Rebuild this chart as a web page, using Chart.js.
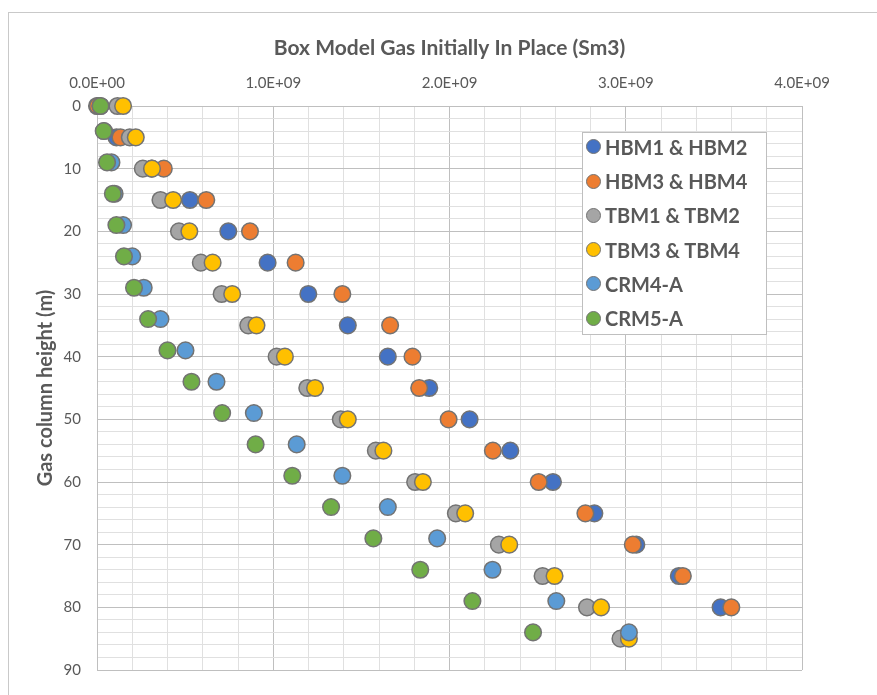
<!DOCTYPE html>
<html>
<head>
<meta charset="utf-8">
<script src="https://cdn.jsdelivr.net/npm/chart.js@4.4.1/dist/chart.umd.min.js"></script>
<style>
    body { margin: 0; background: #fff; overflow: hidden; }
    #wrap { position: relative; width: 877px; height: 695px; overflow: hidden; }
    #frame { position: absolute; left: 8px; top: 12px; width: 1000px; height: 1000px; border: 1.5px solid #c9c9c9; }
    canvas { position: absolute; left: 0; top: 0; }
    #legend { position: absolute; left: 582px; top: 132px; width: 183px; height: 201px; border: 1px solid #bfbfbf; background: #fff; font: bold 20px Lato, sans-serif; color: #595959; }
    .item { position: absolute; left: 3px; height: 34px; display: flex; align-items: center; white-space: nowrap; }
    .dot { width: 13px; height: 13px; border-radius: 50%; border: 1.5px solid #737373; margin-right: 4px; }
</style>
</head>
<body>
<div id="wrap">
    <div id="frame"></div>
    <canvas id="chart" width="877" height="695"></canvas>
    <div id="legend"></div>
</div>
<script>
// gas column heights (m)
const heightHBM = [0, 5, 10, 15, 20, 25, 30, 35, 40, 45, 50, 55, 60, 65, 70, 75, 80];
const heightTBM = [0, 5, 10, 15, 20, 25, 30, 35, 40, 45, 50, 55, 60, 65, 70, 75, 80, 85];
const heightCRM = [0, 4, 9, 14, 19, 24, 29, 34, 39, 44, 49, 54, 59, 64, 69, 74, 79, 84];

// GIIP (Sm3)
const hbm12 = [0.00e9, 0.11e9, 0.31e9, 0.527e9, 0.745e9, 0.968e9, 1.199e9, 1.423e9, 1.65e9, 1.885e9, 2.114e9, 2.345e9, 2.587e9, 2.822e9, 3.06e9, 3.301e9, 3.538e9];
const hbm34 = [0.005e9, 0.133e9, 0.379e9, 0.62e9, 0.868e9, 1.127e9, 1.392e9, 1.663e9, 1.79e9, 1.828e9, 1.995e9, 2.246e9, 2.506e9, 2.771e9, 3.04e9, 3.324e9, 3.599e9];
const tbm12 = [0.116e9, 0.186e9, 0.26e9, 0.36e9, 0.465e9, 0.589e9, 0.707e9, 0.858e9, 1.019e9, 1.193e9, 1.383e9, 1.582e9, 1.805e9, 2.036e9, 2.28e9, 2.528e9, 2.78e9, 2.97e9];
const tbm34 = [0.148e9, 0.22e9, 0.312e9, 0.432e9, 0.524e9, 0.656e9, 0.767e9, 0.905e9, 1.066e9, 1.237e9, 1.423e9, 1.625e9, 1.849e9, 2.089e9, 2.339e9, 2.596e9, 2.86e9, 3.018e9];
const crm4a = [0.02e9, 0.04e9, 0.082e9, 0.1e9, 0.148e9, 0.2e9, 0.265e9, 0.36e9, 0.502e9, 0.678e9, 0.89e9, 1.133e9, 1.392e9, 1.65e9, 1.93e9, 2.244e9, 2.606e9, 3.018e9];
const crm5a = [0.02e9, 0.038e9, 0.057e9, 0.09e9, 0.11e9, 0.153e9, 0.21e9, 0.29e9, 0.4e9, 0.536e9, 0.71e9, 0.9e9, 1.108e9, 1.328e9, 1.568e9, 1.834e9, 2.13e9, 2.474e9];

const seriesLabels = ['HBM1 & HBM2', 'HBM3 & HBM4', 'TBM1 & TBM2', 'TBM3 & TBM4', 'CRM4-A', 'CRM5-A'];

const colors = ['#4472C4', '#ED7D31', '#A5A5A5', '#FFC000', '#5B9BD5', '#70AD47'];
const textColor = '#595959';
const majorGrid = '#bfbfbf';
const minorGrid = '#e0e0e0';

function toPoints(xs, ys) {
    return xs.map((x, i) => ({ x: x, y: ys[i] }));
}

function sci(v) {
    if (v === 0) return '0.0E+00';
    const parts = v.toExponential(1).split('e');
    const n = parseInt(parts[1], 10);
    return parts[0] + 'E' + (n < 0 ? '-' : '+') + String(Math.abs(n)).padStart(2, '0');
}

const series = [
    toPoints(hbm12, heightHBM),
    toPoints(hbm34, heightHBM),
    toPoints(tbm12, heightTBM),
    toPoints(tbm34, heightTBM),
    toPoints(crm4a, heightCRM),
    toPoints(crm5a, heightCRM)
];

const datasets = series.map((pts, i) => ({
    label: seriesLabels[i],
    data: pts,
    backgroundColor: colors[i],
    borderColor: '#737373',
    borderWidth: 1.5,
    pointRadius: 8.3,
    clip: false,
    order: series.length - i   // later series on top, like the original
}));

Chart.defaults.font.family = 'Lato, sans-serif';

const ctx = document.getElementById('chart').getContext('2d');
new Chart(ctx, {
    type: 'scatter',
    data: { datasets: datasets },
    options: {
        responsive: false,
        animation: false,
        layout: { padding: { left: 0, right: 75, top: 0, bottom: 18 } },
        plugins: {
            legend: { display: false },
            tooltip: { enabled: false },
            title: {
                display: true,
                fullSize: false,
                text: 'Box Model Gas Initially In Place (Sm3)',
                color: textColor,
                font: { size: 21, weight: 'bold' },
                padding: { top: 35.4, bottom: 0 }
            }
        },
        scales: {
            x: {
                type: 'linear',
                position: 'top',
                min: 0,
                max: 4e9,
                afterFit: s => { s.height = 45.4; },
                ticks: {
                    stepSize: 2e8,
                    autoSkip: false,
                    maxRotation: 0,
                    padding: 14,
                    color: textColor,
                    font: { size: 15 },
                    callback: v => (Math.round(v / 1e8) % 10 === 0 ? sci(v) : '')
                },
                grid: {
                    drawTicks: false,
                    color: c => (c.tick && Math.round(c.tick.value / 1e8) % 10 === 0 ? majorGrid : minorGrid)
                },
                border: { color: majorGrid }
            },
            y: {
                type: 'linear',
                min: 0,
                max: 90,
                reverse: true,
                afterFit: s => { s.width = 97; },
                ticks: {
                    stepSize: 2,
                    autoSkip: false,
                    padding: 16,
                    color: textColor,
                    font: { size: 15 },
                    callback: v => (v % 10 === 0 ? v : '')
                },
                grid: {
                    drawTicks: false,
                    color: c => (c.tick && c.tick.value % 10 === 0 ? majorGrid : minorGrid)
                },
                border: { color: majorGrid },
                title: {
                    display: true,
                    text: 'Gas column height (m)',
                    color: textColor,
                    font: { size: 20, weight: 'bold' },
                    padding: { top: 34, bottom: 0 }
                }
            }
        }
    }
});

// legend box
const legend = document.getElementById('legend');
seriesLabels.forEach((label, i) => {
    const item = document.createElement('div');
    item.className = 'item';
    item.style.top = (i * 34.3 - 3.3) + 'px';
    item.innerHTML = `<span class="dot" style="background:${colors[i]}"></span><span>${label}</span>`;
    legend.appendChild(item);
});
</script>
</body>
</html>
